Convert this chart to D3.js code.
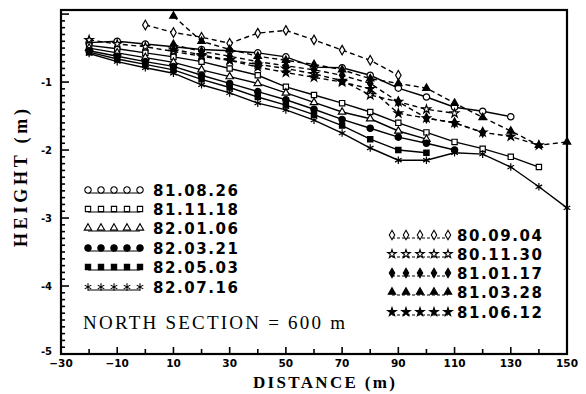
<!DOCTYPE html>
<html><head><meta charset="utf-8">
<script src="https://cdn.jsdelivr.net/npm/d3@7"></script>
<style>
html,body{margin:0;padding:0;background:#fff;}
svg{display:block;}
text{fill:#000;}
</style></head>
<body>
<svg id="chart" width="586" height="394"></svg>
<script>
// ---- data ----
const distance = [-20,-10,0,10,20,30,40,50,60,70,80,90,100,110,120,130,140,150];
const xTicks = [-30,-10,10,30,50,70,90,110,130,150];
const yTicks = [-1,-2,-3,-4,-5];

// solid series
const h810826 = [-0.42,-0.40,-0.44,-0.48,-0.52,-0.54,-0.57,-0.63,-0.78,-0.79,-0.90,-1.09,-1.22,-1.37,-1.43,-1.51,null,null];
const h811118 = [-0.46,-0.51,-0.57,-0.63,-0.70,-0.80,-0.90,-1.07,-1.19,-1.31,-1.44,-1.60,-1.74,-1.88,-1.98,-2.10,-2.25,null];
const h820106 = [-0.50,-0.57,-0.64,-0.71,-0.82,-0.92,-1.02,-1.16,-1.30,-1.44,-1.54,-1.72,-1.84,null,null,null,null,null];
const h820321 = [-0.54,-0.62,-0.70,-0.77,-0.90,-1.02,-1.14,-1.26,-1.40,-1.55,-1.68,-1.81,-1.90,-2.00,null,null,null,null];
const h820503 = [-0.56,-0.66,-0.74,-0.82,-0.96,-1.08,-1.22,-1.34,-1.48,-1.64,-1.84,-2.00,-2.04,null,null,null,null,null];
const h820716 = [-0.58,-0.70,-0.79,-0.87,-1.04,-1.16,-1.31,-1.41,-1.56,-1.75,-1.97,-2.15,-2.15,-2.04,-2.06,-2.25,-2.54,-2.85];
// dashed series
const h800904 = [null,null,-0.16,-0.27,-0.34,-0.43,-0.28,-0.24,-0.38,-0.53,-0.68,-0.90,null,null,null,null,null,null];
const h801130 = [-0.38,-0.44,-0.48,-0.55,-0.62,-0.68,-0.74,-0.80,-0.88,-0.98,-1.19,-1.29,-1.40,-1.46,null,null,null,null];
const h810117 = [null,null,null,-0.45,-0.55,-0.62,-0.70,-0.76,-0.82,-0.90,-1.02,-1.29,-1.53,-1.60,-1.74,null,null,null];
const h810328 = [null,null,null,-0.03,-0.40,-0.52,-0.62,-0.68,-0.74,-0.82,-0.95,-1.02,-1.09,-1.31,-1.52,-1.72,-1.93,-1.88];
const h810612 = [null,null,null,-0.52,-0.60,-0.68,-0.78,-0.86,-0.93,-1.00,-1.10,-1.46,-1.53,-1.60,-1.74,-1.80,-1.93,null];

const leftDates = ["81.08.26","81.11.18","82.01.06","82.03.21","82.05.03","82.07.16"];
const rightDates = ["80.09.04","80.11.30","81.01.17","81.03.28","81.06.12"];

const series = [
  {name:"81.08.26", h:h810826, sym:"circle",   fill:false, dash:false},
  {name:"81.11.18", h:h811118, sym:"square",   fill:false, dash:false},
  {name:"82.01.06", h:h820106, sym:"triangle", fill:false, dash:false},
  {name:"82.03.21", h:h820321, sym:"circle",   fill:true,  dash:false},
  {name:"82.05.03", h:h820503, sym:"square",   fill:true,  dash:false},
  {name:"82.07.16", h:h820716, sym:"asterisk", fill:true,  dash:false},
  {name:"80.09.04", h:h800904, sym:"diamond",  fill:false, dash:true},
  {name:"80.11.30", h:h801130, sym:"star",     fill:false, dash:true},
  {name:"81.01.17", h:h810117, sym:"diamond",  fill:true,  dash:true},
  {name:"81.03.28", h:h810328, sym:"triangle", fill:true,  dash:true},
  {name:"81.06.12", h:h810612, sym:"star",     fill:true,  dash:true}
];

// ---- drawing ----
const svg = d3.select("#chart");
const L = 61, R = 567, T = 10, B = 354;
const x = d3.scaleLinear().domain([-30,150]).range([L,R]);
const y = d3.scaleLinear().domain([-5,0.06]).range([B,T]);

const symTypes = {
  circle: d3.symbolCircle, square: d3.symbolSquare, triangle: d3.symbolTriangle,
  diamond: d3.symbolDiamond, star: d3.symbolStar,
  asterisk: d3.symbolAsterisk || d3.symbolStar
};
const symSize = {circle:32, square:28, triangle:24, diamond:26, star:22, asterisk:40};
function symPath(s){ return d3.symbol().type(symTypes[s]).size(symSize[s])(); }

// frame
const g = svg.append("g");
g.append("rect").attr("x",L).attr("y",T).attr("width",R-L).attr("height",B-T)
  .attr("fill","none").attr("stroke","#000").attr("stroke-width",2.2);

// y ticks (inward), minor every 0.1
const yMinor = d3.range(-50,1).map(d=>d/10);
g.selectAll(".ytk").data(yMinor).join("line")
  .attr("x1",L).attr("x2",d=>L+(Math.abs(d-Math.round(d))<1e-9?8:4))
  .attr("y1",d=>y(d)).attr("y2",d=>y(d))
  .attr("stroke","#000").attr("stroke-width",1.6);
g.selectAll(".ylab").data(yTicks).join("text")
  .attr("x",L-9).attr("y",d=>y(d)+(d===-5?1:4)).attr("text-anchor","end")
  .attr("font-family","DejaVu Sans").attr("font-weight","bold").attr("font-size",10)
  .text(d=>d);

// x ticks (inward), every 10
const xMinor = d3.range(-30,151,10);
g.selectAll(".xtk").data(xMinor).join("line")
  .attr("x1",d=>x(d)).attr("x2",d=>x(d))
  .attr("y1",B).attr("y2",d=>B-((d+30)%20===0?7:5))
  .attr("stroke","#000").attr("stroke-width",1.6);
g.selectAll(".xlab").data(xTicks).join("text")
  .attr("x",d=>x(d)).attr("y",B+13).attr("text-anchor","middle")
  .attr("font-family","DejaVu Sans").attr("font-weight","bold").attr("font-size",10.5)
  .text(d=>d<0?"\u2212"+Math.abs(d):d);

// axis titles
svg.append("text").attr("x",324).attr("y",388).attr("text-anchor","middle")
  .attr("font-family","Liberation Serif").attr("font-weight","bold").attr("font-size",17)
  .attr("textLength",142).attr("lengthAdjust","spacing")
  .text("DISTANCE (m)");
svg.append("text").attr("transform","translate(27,178) rotate(-90)").attr("text-anchor","middle")
  .attr("font-family","Liberation Serif").attr("font-weight","bold").attr("font-size",18)
  .attr("textLength",138).attr("lengthAdjust","spacing")
  .text("HEIGHT (m)");

// lines
const line = d3.line().defined(d=>d[1]!==null).x(d=>x(d[0])).y(d=>y(d[1]));
const plot = svg.append("g");
series.forEach(s=>{
  const pts = distance.map((d,i)=>[d,s.h[i]]);
  plot.append("path").datum(pts).attr("d",line).attr("fill","none")
    .attr("stroke","#000").attr("stroke-width",1.4)
    .attr("stroke-dasharray",s.dash?"5,3.5":null);
});
series.forEach(s=>{
  const pts = distance.map((d,i)=>[d,s.h[i]]).filter(d=>d[1]!==null);
  plot.selectAll(null).data(pts).join("path")
    .attr("transform",d=>`translate(${x(d[0])},${y(d[1])})`)
    .attr("d",symPath(s.sym))
    .attr("fill",s.fill?"#000":"#fff").attr("stroke","#000").attr("stroke-width",1.2);
});

// legends
function legend(names, mx, tx, ys){
  names.forEach((nm,i)=>{
    const s = series.find(d=>d.name===nm);
    const yy = ys[i];
    const lg = svg.append("g");
    lg.append("line").attr("x1",mx[0]).attr("x2",mx[mx.length-1]).attr("y1",yy+3).attr("y2",yy+3)
      .attr("stroke","#000").attr("stroke-width",1.1).attr("stroke-dasharray",s.dash?"3,2":null);
    lg.selectAll(null).data(mx).join("path")
      .attr("transform",d=>`translate(${d},${yy})`).attr("d",symPath(s.sym))
      .attr("fill",s.fill?"#000":"#fff").attr("stroke","#000").attr("stroke-width",1.1);
    lg.append("text").attr("x",tx).attr("y",yy+6)
      .attr("font-family","DejaVu Sans").attr("font-weight","bold").attr("font-size",15)
      .attr("textLength",85).attr("lengthAdjust","spacing").text(nm);
  });
}
legend(leftDates, [88,101,114,127,140], 153, [190,209,228,248,267,287]);
legend(rightDates, [392,406,420,434,448], 457, [235,254,273,292,312]);

svg.append("text").attr("x",83).attr("y",329)
  .attr("font-family","Liberation Serif").attr("font-size",19)
  .attr("textLength",262).attr("lengthAdjust","spacing")
  .text("NORTH SECTION = 600 m");
</script>
</body></html>
